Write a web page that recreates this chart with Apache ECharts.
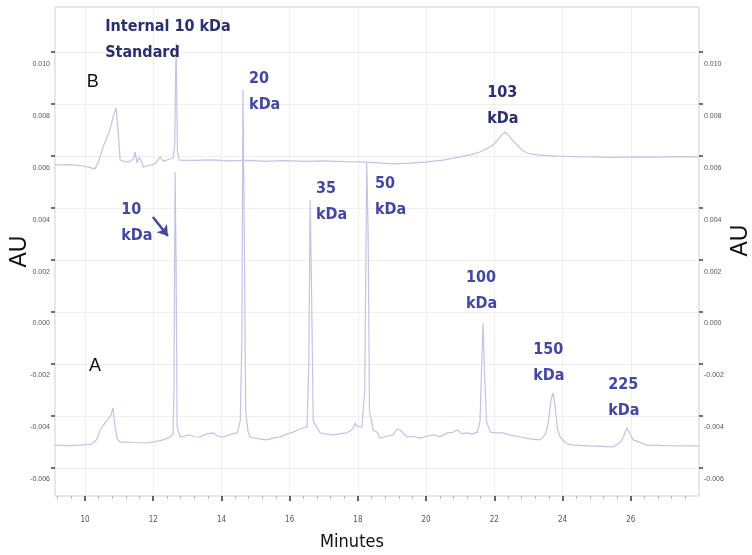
<!DOCTYPE html>
<html>
<head>
<meta charset="utf-8">
<script src="https://cdn.jsdelivr.net/npm/echarts@6/dist/echarts.min.js"></script>
<style>
  html, body { margin: 0; padding: 0; background: #fff; }
  #chart { width: 752px; height: 555px; }
</style>
</head>
<body>
<div id="chart"></div>
<script>
// chromatogram A (protein standards), [minutes, AU]
var traceA = [
  [9.12, -0.00512], [9.5, -0.00514], [9.85, -0.00512], [10.2, -0.00508], [10.35, -0.00490],
  [10.44, -0.00454], [10.6, -0.00425], [10.75, -0.00400], [10.82, -0.00369], [10.88, -0.00442],
  [10.95, -0.00490], [11.03, -0.00500], [11.4, -0.00502], [11.82, -0.00504], [12.1, -0.00498],
  [12.29, -0.00492], [12.49, -0.00481], [12.58, -0.00470], [12.61, -0.00300], [12.64, 0.00539],
  [12.67, 0.00200], [12.70, -0.00440], [12.79, -0.00481], [13.08, -0.00473], [13.2, -0.00480],
  [13.37, -0.00481], [13.55, -0.00470], [13.75, -0.00465], [13.9, -0.00478], [14.05, -0.00481],
  [14.3, -0.00470], [14.46, -0.00465], [14.55, -0.00420], [14.60, -0.00100], [14.63, 0.00855],
  [14.67, 0.00300], [14.71, -0.00380], [14.78, -0.00460], [14.84, -0.00481], [15.1, -0.00488],
  [15.34, -0.00492], [15.5, -0.00485], [15.72, -0.00481], [15.9, -0.00470], [16.10, -0.00462],
  [16.3, -0.00450], [16.51, -0.00442], [16.56, -0.00200], [16.60, 0.00431], [16.64, 0.00100],
  [16.69, -0.00420], [16.89, -0.00465], [17.1, -0.00470], [17.27, -0.00473], [17.5, -0.00468],
  [17.68, -0.00465], [17.85, -0.00450], [17.92, -0.00427], [17.97, -0.00440], [18.12, -0.00442],
  [18.20, -0.00300], [18.26, 0.00574], [18.30, 0.00300], [18.34, -0.00380], [18.45, -0.00455],
  [18.56, -0.00462], [18.65, -0.00485], [18.85, -0.00478], [19.03, -0.00473], [19.15, -0.00450],
  [19.24, -0.00454], [19.44, -0.00481], [19.6, -0.00478], [19.82, -0.00485], [20.0, -0.00478],
  [20.21, -0.00473], [20.4, -0.00480], [20.62, -0.00465], [20.8, -0.00462], [20.91, -0.00454],
  [21.05, -0.00468], [21.20, -0.00465], [21.35, -0.00470], [21.50, -0.00462], [21.58, -0.00420],
  [21.63, -0.00200], [21.67, -0.00042], [21.71, -0.00220], [21.77, -0.00420], [21.88, -0.00462],
  [22.05, -0.00465], [22.26, -0.00465], [22.5, -0.00475], [22.76, -0.00481], [23.05, -0.00488],
  [23.34, -0.00492], [23.5, -0.00470], [23.58, -0.00427], [23.66, -0.00340], [23.72, -0.00311],
  [23.78, -0.00360], [23.85, -0.00450], [23.93, -0.00481], [24.1, -0.00505], [24.31, -0.00512],
  [24.8, -0.00515], [25.48, -0.00519], [25.7, -0.00500], [25.78, -0.00481], [25.89, -0.00446],
  [25.98, -0.00470], [26.07, -0.00492], [26.48, -0.00512], [27.0, -0.00514], [27.98, -0.00515]
];

// chromatogram B (sample + internal standard), [minutes, AU]
var traceB = [
  [9.12, 0.00566], [9.5, 0.00567], [9.85, 0.00564], [10.1, 0.00558], [10.29, 0.00551],
  [10.4, 0.00580], [10.53, 0.00635], [10.73, 0.00700], [10.82, 0.00750], [10.91, 0.00786],
  [10.97, 0.00700], [11.03, 0.00585], [11.15, 0.00580], [11.3, 0.00578], [11.42, 0.00590],
  [11.47, 0.00616], [11.52, 0.00574], [11.58, 0.00595], [11.61, 0.00601], [11.66, 0.00580],
  [11.70, 0.00559], [11.91, 0.00565], [12.05, 0.00570], [12.2, 0.00597], [12.3, 0.00580],
  [12.4, 0.00585], [12.58, 0.00593], [12.63, 0.00640], [12.67, 0.01036], [12.71, 0.00620],
  [12.76, 0.00585], [13.2, 0.00584], [13.7, 0.00586], [14.2, 0.00582], [14.8, 0.00584],
  [15.3, 0.00580], [15.8, 0.00583], [16.4, 0.00580], [17.0, 0.00582], [17.6, 0.00579],
  [18.06, 0.00578], [18.5, 0.00575], [19.03, 0.00570], [19.5, 0.00573], [20.03, 0.00578],
  [20.5, 0.00585], [21.0, 0.00597], [21.3, 0.00605], [21.58, 0.00616], [21.8, 0.00630],
  [21.96, 0.00643], [22.1, 0.00662], [22.2, 0.00680], [22.32, 0.00693], [22.45, 0.00675],
  [22.55, 0.00658], [22.67, 0.00643], [22.8, 0.00625], [22.96, 0.00612], [23.26, 0.00605],
  [23.8, 0.00600], [24.4, 0.00598], [24.9, 0.00597], [25.5, 0.00595], [26.2, 0.00597],
  [26.8, 0.00596], [27.4, 0.00598], [27.98, 0.00597]
];

var xTicks = [10, 12, 14, 16, 18, 20, 22, 24, 26];
var yTicks = [-0.006, -0.004, -0.002, 0, 0.002, 0.004, 0.006, 0.008, 0.010];

// peak annotations (left edge / vertical centre of the text block)
var noteText = ['Internal 10 kDa\nStandard', '20\nkDa', '103\nkDa', '10\nkDa', '35\nkDa',
                '50\nkDa', '100\nkDa', '150\nkDa', '225\nkDa'];
var noteX = [10.59, 14.81, 21.79, 11.06, 16.77, 18.50, 21.17, 23.14, 25.34];
var noteY = [0.01047, 0.00849, 0.00795, 0.00345, 0.00424, 0.00445, 0.00081, -0.00194, -0.00329];

var traceText = ['B', 'A'];
var traceLabelX = [10.23, 10.29];
var traceLabelY = [0.00886, -0.00207];

var arrowFrom = [11.99, 0.00366];
var arrowTo = [12.43, 0.00293];

var xMin = 9.12, xMax = 28.0, yMin = -0.00708, yMax = 0.01174;

var minorX = [];
for (var m = 9.2; m < xMax; m += 0.4) {
  var r = Math.round(m * 10) / 10;
  if (Math.abs(r / 2 - Math.round(r / 2)) > 0.01) minorX.push(r);
}

var navy = '#2c2e72';
var blue = '#4247a6';
var trace = '#c2c3e6';
var narrow = '"Liberation Sans Narrow", "DejaVu Sans Condensed", sans-serif';

var chart = echarts.init(document.getElementById('chart'));

var noteData = noteText.map(function (t, i) {
  var dark = (i === 0 || i === 2);
  return {
    value: [noteX[i], noteY[i]],
    label: { formatter: t, color: dark ? navy : blue }
  };
});

var letterData = traceText.map(function (t, i) {
  return { value: [traceLabelX[i], traceLabelY[i]], label: { formatter: t } };
});

var yLabelStyle = {
  fontSize: 7, color: '#555', fontFamily: 'Arial, "Liberation Sans", sans-serif',
  verticalAlign: 'top', padding: [8, 0, 0, 0],
  customValues: yTicks,
  formatter: function (v) { return v.toFixed(3); }
};

var option = {
  animation: false,
  grid: {
    left: 55, right: 53, top: 7, bottom: 59, outerBoundsMode: 'none', containLabel: false,
    show: true, borderColor: '#cfcfcf', borderWidth: 1
  },
  xAxis: [{
    type: 'value', min: xMin, max: xMax,
    name: 'Minutes', nameLocation: 'middle', nameGap: 37, nameMoveOverlap: false,
    nameTextStyle: { fontSize: 18, color: '#111', fontFamily: narrow, padding: [0, 50, 0, 0] },
    axisLine: { show: false, onZero: false },
    axisTick: { show: true, length: 5, customValues: xTicks, lineStyle: { color: '#333', width: 1.5 } },
    axisLabel: { customValues: xTicks, margin: 20, fontSize: 8, color: '#555', fontFamily: narrow },
    splitLine: { show: true, lineStyle: { color: '#efeff3', width: 1 } }
  }, {
    type: 'value', min: xMin, max: xMax, position: 'bottom',
    axisLine: { show: false, onZero: false },
    axisTick: { show: true, length: 3, customValues: minorX, lineStyle: { color: '#b8b8b8' } },
    axisLabel: { show: false },
    splitLine: { show: false }
  }],
  yAxis: [{
    type: 'value', min: yMin, max: yMax, position: 'left',
    name: 'AU', nameLocation: 'middle', nameGap: 24, nameRotate: 90, nameMoveOverlap: false,
    nameTextStyle: { fontSize: 23, color: '#111', fontFamily: 'Arial, "Liberation Sans", sans-serif' },
    axisLine: { show: false, onZero: false },
    axisTick: { show: true, length: 4, customValues: yTicks, lineStyle: { color: '#444', width: 1.5 } },
    axisLabel: Object.assign({ margin: 5 }, yLabelStyle),
    splitLine: { show: true, lineStyle: { color: '#efeff3', width: 1 } }
  }, {
    type: 'value', min: yMin, max: yMax, position: 'right',
    name: 'AU', nameLocation: 'middle', nameGap: 30, nameRotate: 90, nameMoveOverlap: false,
    nameTextStyle: { fontSize: 23, color: '#111', fontFamily: 'Arial, "Liberation Sans", sans-serif', padding: [0, 0, 0, 22] },
    axisLine: { show: false, onZero: false },
    axisTick: { show: true, length: 4, customValues: yTicks, lineStyle: { color: '#444', width: 1.5 } },
    axisLabel: Object.assign({ margin: 5 }, yLabelStyle),
    splitLine: { show: false }
  }],
  series: [
    {
      name: 'A', type: 'line', data: traceA, showSymbol: false, silent: true,
      lineStyle: { color: trace, width: 1.2 }
    },
    {
      name: 'B', type: 'line', data: traceB, showSymbol: false, silent: true,
      lineStyle: { color: trace, width: 1.2 }
    },
    {
      name: 'notes', type: 'scatter', data: noteData, symbolSize: 0, silent: true, z: 5,
      itemStyle: { opacity: 1 },
      label: {
        show: true, position: [0, 0], align: 'left', verticalAlign: 'middle',
        fontSize: 16, fontWeight: 'bold', lineHeight: 26, fontFamily: narrow
      },
      markLine: {
        silent: true, symbol: ['none', 'arrow'], symbolSize: 10,
        label: { show: false },
        lineStyle: { color: blue, width: 2.5, type: 'solid', opacity: 1 },
        data: [[{ coord: arrowFrom }, { coord: arrowTo }]]
      }
    },
    {
      name: 'letters', type: 'scatter', data: letterData, symbolSize: 0, silent: true, z: 5,
      itemStyle: { opacity: 1 },
      label: {
        show: true, position: [0, 0], align: 'center', verticalAlign: 'middle',
        fontSize: 18, color: '#111', fontFamily: 'Arial, "Liberation Sans", sans-serif'
      }
    }
  ]
};

chart.setOption(option);
</script>
</body>
</html>
